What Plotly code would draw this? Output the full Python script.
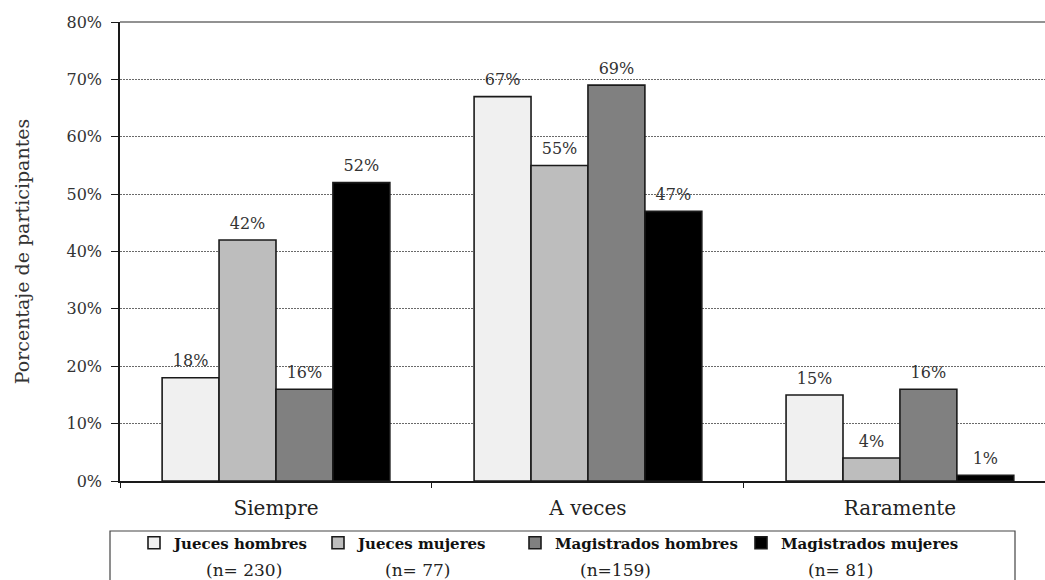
import plotly.graph_objects as go

# Survey answers by group (percent of participants)
categories = ["Siempre", "A veces", "Raramente"]
series_names = ["Jueces hombres", "Jueces mujeres", "Magistrados hombres", "Magistrados mujeres"]
sample_sizes = ["(n= 230)", "(n= 77)", "(n=159)", "(n= 81)"]
jueces_hombres = [18, 67, 15]
jueces_mujeres = [42, 55, 4]
magistrados_hombres = [16, 69, 16]
magistrados_mujeres = [52, 47, 1]
y_ticks = [0, 10, 20, 30, 40, 50, 60, 70, 80]
y_tick_labels = ["0%", "10%", "20%", "30%", "40%", "50%", "60%", "70%", "80%"]

series_values = [jueces_hombres, jueces_mujeres, magistrados_hombres, magistrados_mujeres]
fill_colors = ["#f0f0f0", "#bdbdbd", "#808080", "#000000"]
legend_ids = ["legend", "legend2", "legend3", "legend4"]

SERIF = "DejaVu Serif"
W, H = 1045, 580
M_L, M_R, M_T, M_B = 120, 0, 22, 99
plot_w = W - M_L - M_R
plot_h = H - M_T - M_B


def px_x(px):
    return (px - M_L) / plot_w


def px_y(py):
    return (H - M_B - py) / plot_h


fig = go.Figure()

for name, vals, color, lg in zip(series_names, series_values, fill_colors, legend_ids):
    fig.add_trace(go.Bar(
        x=categories, y=vals, name=name, legend=lg,
        marker=dict(color=color, line=dict(color="#1a1a1a", width=1.6)),
        hoverinfo="x+y+name",
    ))

# value labels riding just above each bar
for name, vals in zip(series_names, series_values):
    fig.add_trace(go.Scatter(
        x=categories, y=vals, mode="markers+text",
        text=[f"{v}%" for v in vals], textposition="top center",
        textfont=dict(family=SERIF, size=16, color="#333333"),
        marker=dict(size=10, opacity=0),
        showlegend=False, hoverinfo="skip", cliponaxis=False,
    ))

legend_x_px = [134, 318, 515, 741]
legend_common = dict(
    orientation="h", yanchor="middle", xanchor="left",
    bgcolor="rgba(0,0,0,0)", borderwidth=0, itemwidth=30,
    font=dict(family=SERIF, size=15, color="#111111", weight="bold"),
    itemclick=False, itemdoubleclick=False,
)
legend_layout = {}
for lg, xp in zip(legend_ids, legend_x_px):
    legend_layout[lg] = dict(legend_common, x=px_x(xp), y=px_y(543))

annotations = []
for label, cx in zip(sample_sizes, [244, 418, 615, 841]):
    annotations.append(dict(
        text=label, xref="paper", yref="paper", x=px_x(cx), y=px_y(570),
        xanchor="center", yanchor="middle", showarrow=False,
        font=dict(family=SERIF, size=17, color="#222222"),
    ))

shapes = [
    # solid top edge of the plotting area
    dict(type="line", xref="paper", yref="paper", x0=0, x1=1, y0=1, y1=1,
         line=dict(color="#6e6e6e", width=1.6)),
    # frame around the legend
    dict(type="rect", xref="paper", yref="paper",
         x0=px_x(110), x1=px_x(1015), y0=px_y(531), y1=px_y(600),
         line=dict(color="#444444", width=1.2), fillcolor="rgba(0,0,0,0)"),
]

fig.update_layout(
    width=W, height=H,
    margin=dict(l=M_L, r=M_R, t=M_T, b=M_B, pad=0),
    paper_bgcolor="white", plot_bgcolor="white",
    barmode="group", bargap=0.27, bargroupgap=0,
    scattermode="group", scattergap=0.27,
    font=dict(family=SERIF, color="#333333"),
    annotations=annotations, shapes=shapes,
    **legend_layout,
)

fig.update_xaxes(
    type="category", range=[-0.5, 2.465],
    showline=True, linecolor="#1a1a1a", linewidth=1.5,
    ticks="outside", tickson="boundaries", ticklen=5, tickcolor="#1a1a1a",
    tickfont=dict(family=SERIF, size=20, color="#222222"),
    ticklabelstandoff=8, showgrid=False, zeroline=False,
)

fig.update_yaxes(
    range=[0, 80], tickmode="array", tickvals=y_ticks, ticktext=y_tick_labels,
    showline=True, linecolor="#1a1a1a", linewidth=1.5,
    ticks="outside", ticklen=7, tickcolor="#1a1a1a",
    tickfont=dict(family=SERIF, size=16, color="#333333"),
    ticklabelstandoff=6,
    showgrid=True, gridcolor="#6a6a6a", griddash="2px,1px", gridwidth=1.3,
    zeroline=False,
    title=dict(text="Porcentaje de participantes", standoff=32,
               font=dict(family=SERIF, size=19, color="#333333")),
)

fig.write_html("out.html")
